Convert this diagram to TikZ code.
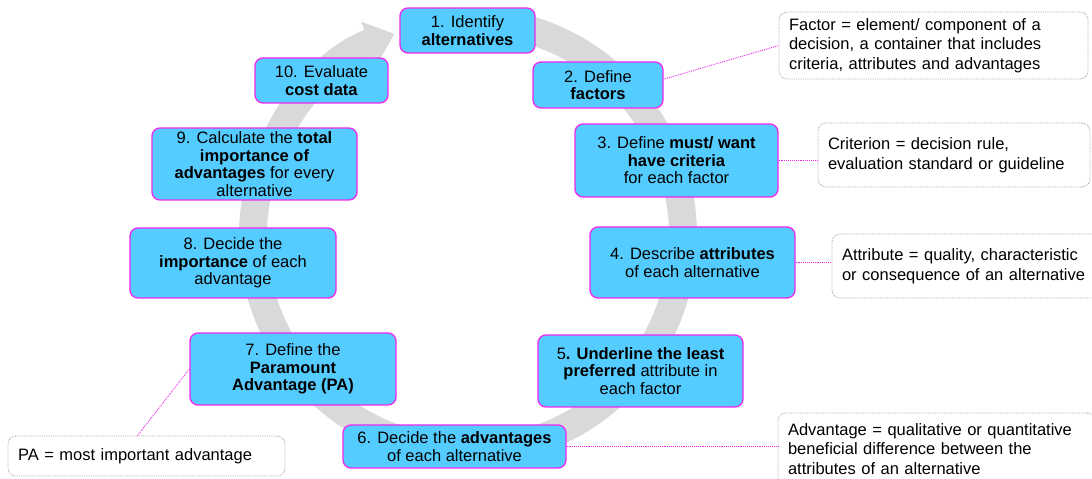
\documentclass[tikz,border=0pt]{standalone}
\usepackage{fontspec}
\setmainfont{Liberation Sans}
\usetikzlibrary{arrows.meta,calc}
\definecolor{boxfill}{RGB}{85,204,255}
\definecolor{boxline}{RGB}{240,40,240}
\definecolor{band}{RGB}{217,217,217}
\definecolor{defline}{RGB}{165,165,165}
\begin{document}
\begin{tikzpicture}[x=1pt,y=1pt,
  stepbox/.style={draw=boxline, line width=1.3pt, fill=boxfill, rounded corners=8pt,
    align=center, inner sep=0pt, font=\fontsize{16.5}{17.5}\selectfont},
  defbox/.style={draw=defline, densely dotted, line width=0.8pt, fill=white, rounded corners=8pt,
    align=left, inner xsep=10pt, inner ysep=0pt, font=\fontsize{16.5}{19.5}\selectfont},
  link/.style={draw=boxline, densely dotted, line width=0.9pt}]
\useasboundingbox (0,0) rectangle (1092,479);
\fill[white] (0,0) rectangle (1092,479);
% grey circular arrow
\draw[band, line width=28pt, -{Triangle[width=44pt,length=27pt]}]
  (468,243) ++(78:215) arc[start angle=78, end angle=-250, radius=215];
% step boxes
\node[stepbox, minimum width=135pt, minimum height=45pt] (f1) at (467.5,448.5) {1. Identify\\\textbf{alternatives}};
\node[stepbox, minimum width=130pt, minimum height=46pt] (f2) at (598,394) {2. Define\\\textbf{factors}};
\node[stepbox, minimum width=203pt, minimum height=73pt] (f3) at (676.5,318.5) {3. Define \textbf{must/ want}\\\textbf{have criteria}\\for each factor};
\node[stepbox, minimum width=205pt, minimum height=71pt] (f4) at (692.5,216.5) {4. Describe \textbf{attributes}\\of each alternative};
\node[stepbox, minimum width=205pt, minimum height=72pt] (f5) at (640.5,108) {5\textbf{. Underline the least}\\\textbf{preferred} attribute in\\each factor};
\node[stepbox, minimum width=223pt, minimum height=43pt] (f6) at (454.5,32.5) {6. Decide the \textbf{advantages}\\of each alternative};
\node[stepbox, minimum width=206pt, minimum height=72pt] (f7) at (293,110) {7. Define the\\\textbf{Paramount}\\\textbf{Advantage (PA)}};
\node[stepbox, minimum width=206pt, minimum height=70pt] (f8) at (233,216) {8. Decide the\\\textbf{importance} of each\\advantage};
\node[stepbox, minimum width=205pt, minimum height=72pt] (f9) at (254.5,315) {9. Calculate the \textbf{total}\\\textbf{importance of}\\\textbf{advantages} for every\\alternative};
\node[stepbox, minimum width=133pt, minimum height=45pt] (f10) at (321.5,398.5) {10. Evaluate\\\textbf{cost data}};
% definition boxes
\node[defbox, text width=289pt, minimum height=67pt] (dfac) at (933.5,433.5) {Factor = element/ component of a\\decision, a container that includes\\criteria, attributes and advantages};
\node[defbox, text width=252pt, minimum height=64pt] (dcrit) at (954,324) {Criterion = decision rule,\\evaluation standard or guideline};
\node[defbox, text width=252pt, minimum height=64pt] (dattr) at (968,213) {Attribute = quality, characteristic\\or consequence of an alternative};
\node[defbox, text width=297pt, minimum height=72pt] (dadv) at (936.5,30) {Advantage = qualitative or quantitative\\beneficial difference between the\\attributes of an alternative};
\node[defbox, text width=257pt, minimum height=40pt] (dpa) at (146.5,23) {PA = most important advantage};
% connectors
\draw[link] (f2.5) -- (dfac.west);
\draw[link] (f3.east) -- (f3.east -| dcrit.west);
\draw[link] (f4.east) -- (f4.east -| dattr.west);
\draw[link] (f6.east) -- (f6.east -| dadv.west);
\draw[link] (f7.west) -- ($(dpa.north)+(-9,0)$);
\end{tikzpicture}
\end{document}
